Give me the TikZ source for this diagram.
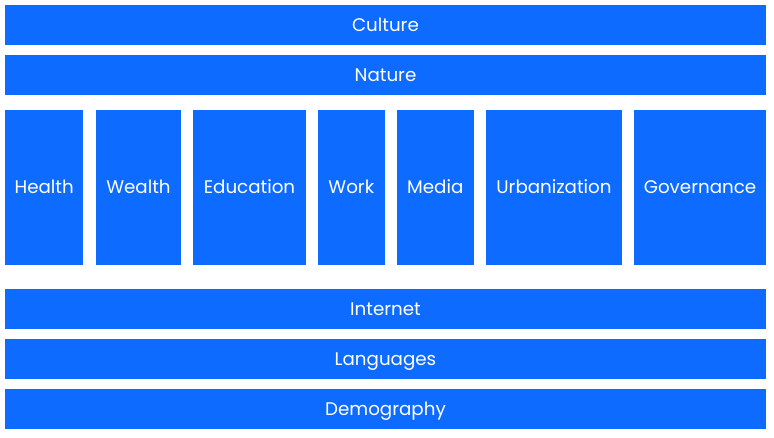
\documentclass[tikz,border=0pt]{standalone}
\usepackage{fontspec}
\setmainfont{Poppins}
\usepackage{tikz}
\definecolor{tileblue}{RGB}{14,107,255}

\begin{document}
\begin{tikzpicture}[x=0.75pt, y=-0.75pt,
                tile/.style = {fill=tileblue, text=white, inner sep=0pt, text height=9.6pt, text depth=0pt, font=\fontsize{13.7}{16}\selectfont},
                bar/.style = {tile, minimum width=571pt, minimum height=30pt},
                col/.style = {tile, minimum height=116pt}]
                \useasboundingbox (0, 0) rectangle (774, 438);

                \node[bar] at (385.5, 25) (culture) {Culture};
                \node[bar] at (385.5, 75) (nature) {Nature};

                \node[col, minimum width=58.7pt] at (44.2, 187.3) (health) {Health};
                \node[col, minimum width=63.8pt] at (138.5, 187.3) (wealth) {Wealth};
                \node[col, minimum width=84.8pt] at (249.5, 187.3) (education) {Education};
                \node[col, minimum width=50pt] at (351.3, 187.3) (work) {Work};
                \node[col, minimum width=57.5pt] at (435.3, 187.3) (media) {Media};
                \node[col, minimum width=102pt] at (554, 187.3) (urbanization) {Urbanization};
                \node[col, minimum width=99pt] at (700, 187.3) (governance) {Governance};

                \node[bar] at (385.5, 309) (internet) {Internet};
                \node[bar] at (385.5, 359) (languages) {Languages};
                \node[bar] at (385.5, 409) (demography) {Demography};
            \end{tikzpicture}
\end{document}
